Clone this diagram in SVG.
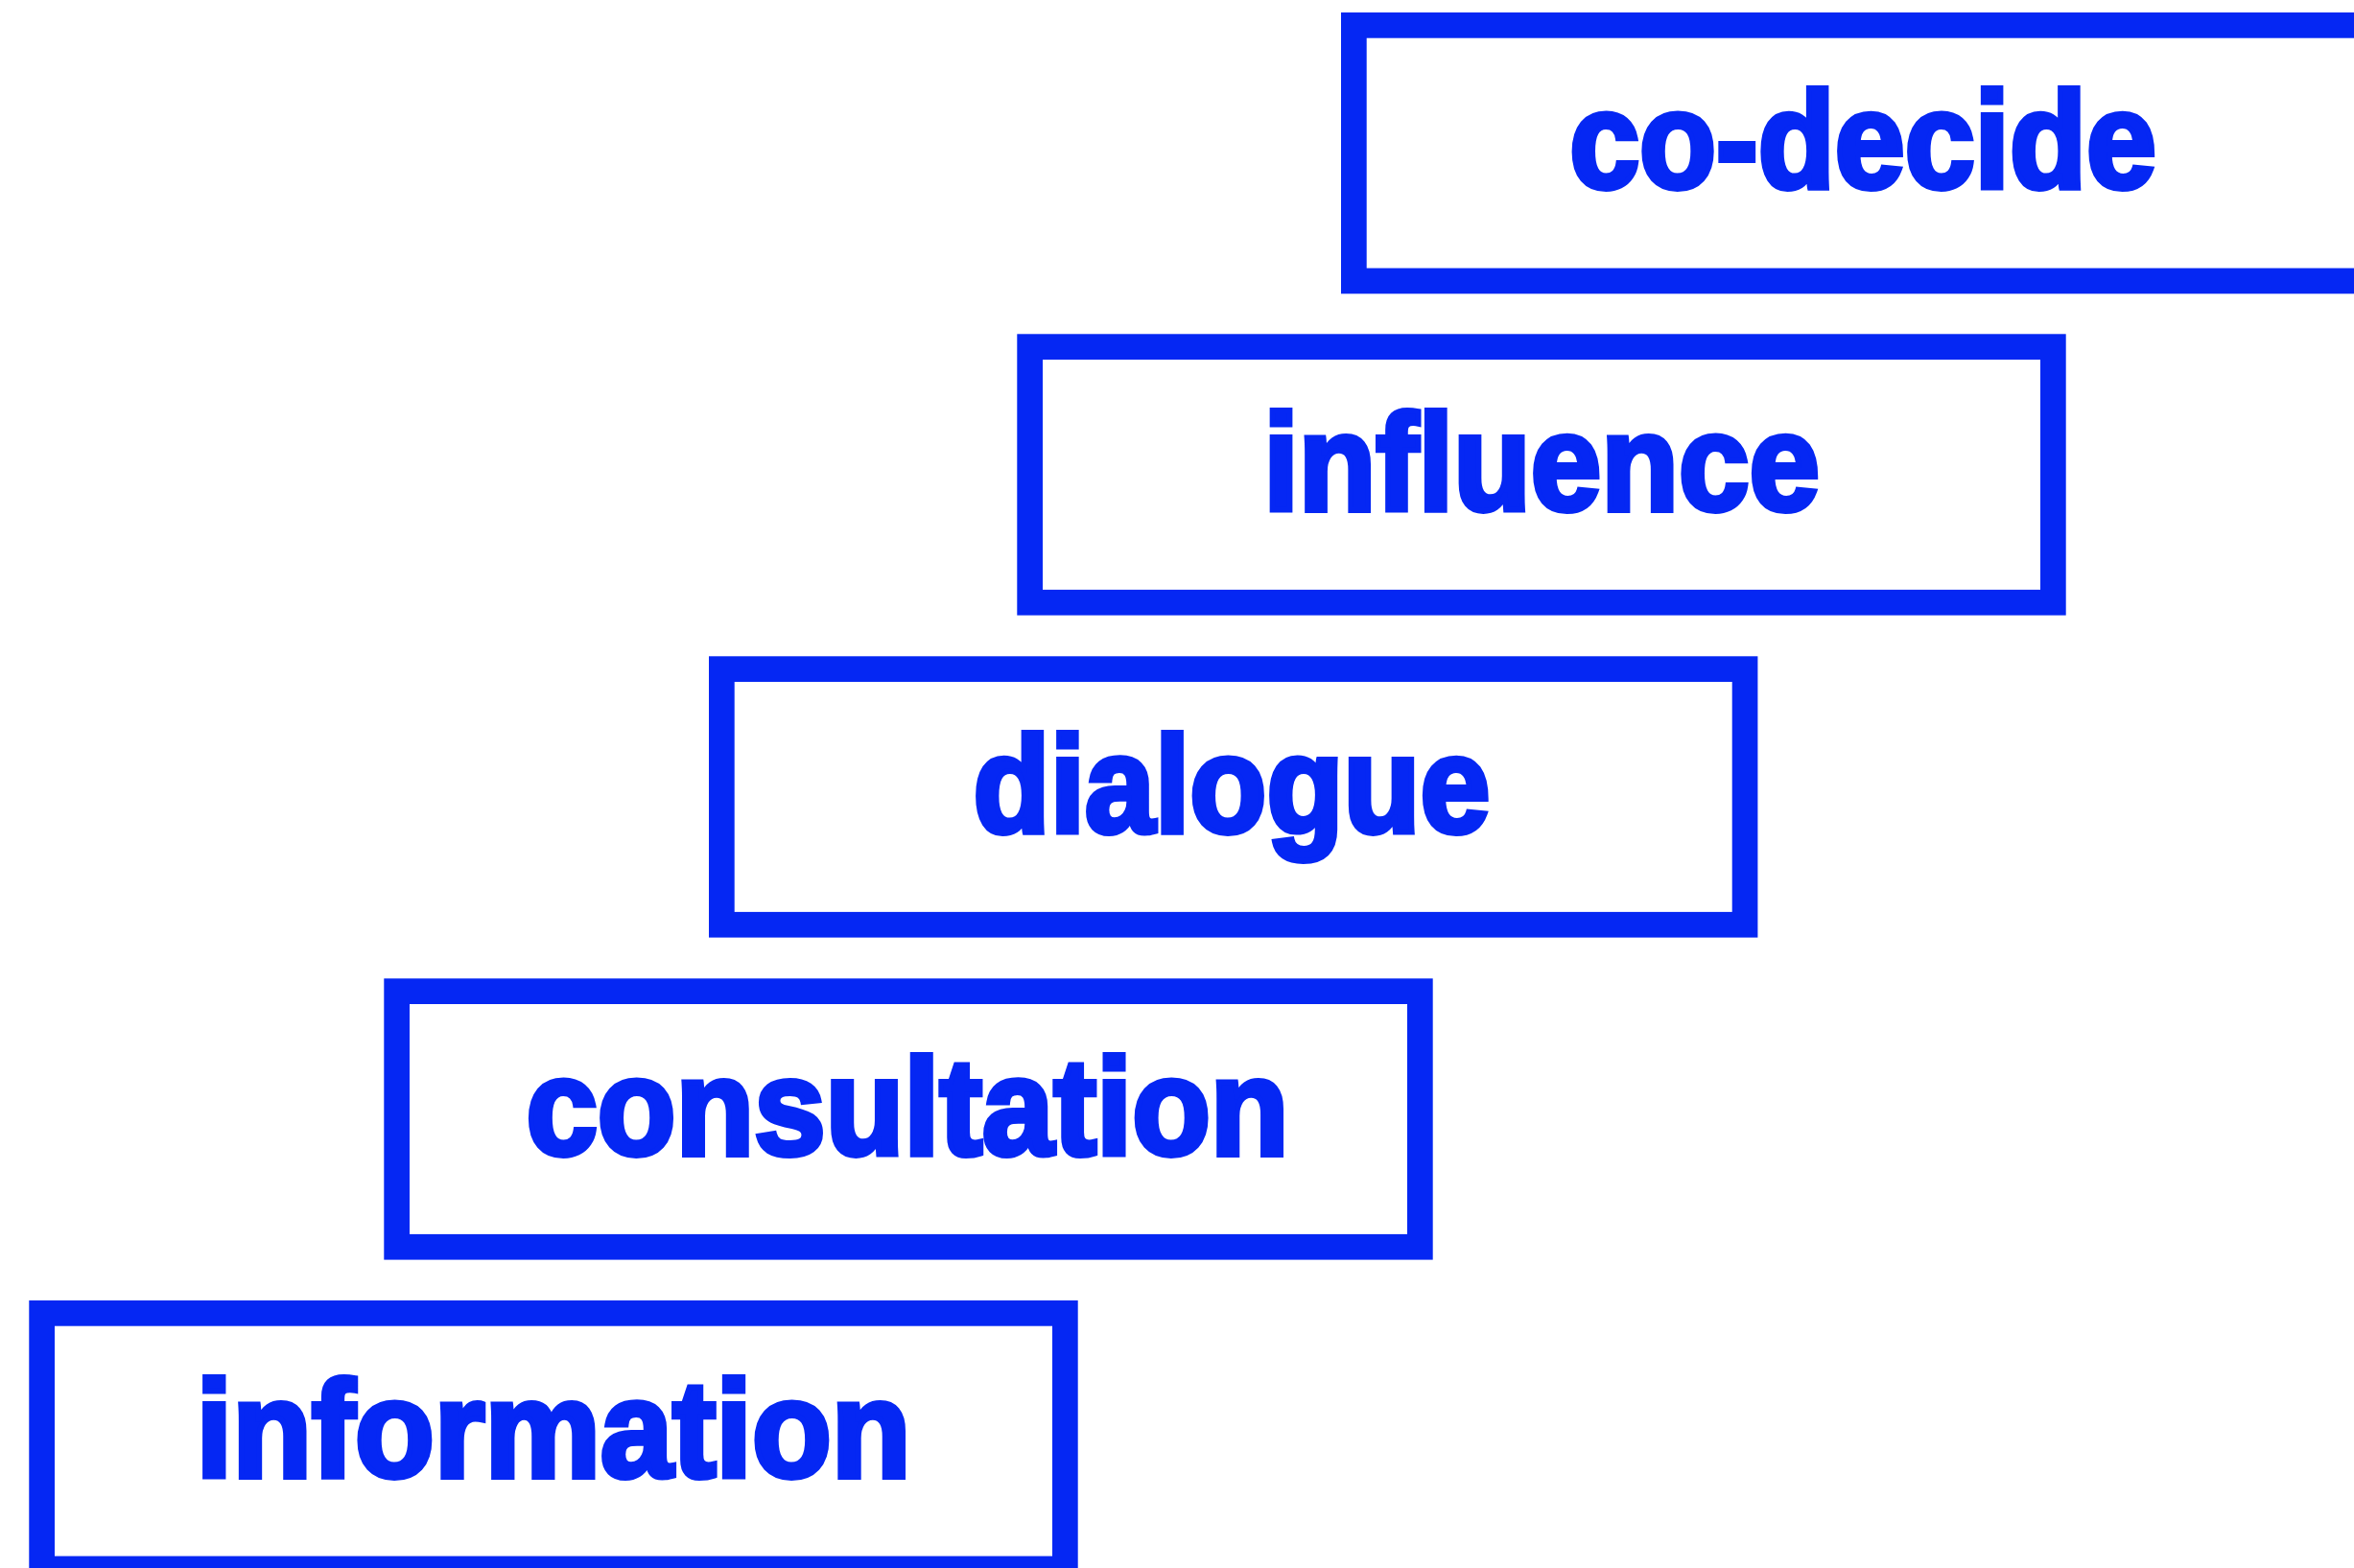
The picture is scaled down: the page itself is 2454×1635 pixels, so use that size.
<svg xmlns="http://www.w3.org/2000/svg" width="2454" height="1635" viewBox="0 0 2454 1635">
  <style>
    .box { fill: #ffffff; stroke: #0527F3; stroke-width: 26.7; }
    .label { font-family: "Liberation Sans", Arial, sans-serif; font-weight: 700; font-size: 142px; fill: #0527F3; stroke: #0527F3; stroke-width: 6; stroke-linejoin: miter; text-anchor: middle; }
  </style>
  <rect width="2454" height="1635" fill="#ffffff"/>
  <g id="connectors"/>
  <g id="node-co-decide">
    <rect class="box" x="1411.35" y="26.35" width="1066.7" height="266.6"/>
    <text class="label" transform="translate(1942,196) scale(0.923,1)">co-decide</text>
  </g>
  <g id="node-influence">
    <rect class="box" x="1073.65" y="361.65" width="1066.7" height="266.6"/>
    <text class="label" transform="translate(1607,532) scale(0.93,1)">influence</text>
  </g>
  <g id="node-dialogue">
    <rect class="box" x="752.35" y="697.65" width="1066.7" height="266.6"/>
    <text class="label" transform="translate(1284,867.5) scale(0.923,1)">dialogue</text>
  </g>
  <g id="node-consultation">
    <rect class="box" x="413.65" y="1033.65" width="1066.7" height="266.6"/>
    <text class="label" transform="translate(946,1203.5) scale(0.942,1)">consultation</text>
  </g>
  <g id="node-information">
    <rect class="box" x="43.65" y="1369.35" width="1066.7" height="266.6"/>
    <text class="label" transform="translate(577,1539.5) scale(0.954,1)">information</text>
  </g>
</svg>
